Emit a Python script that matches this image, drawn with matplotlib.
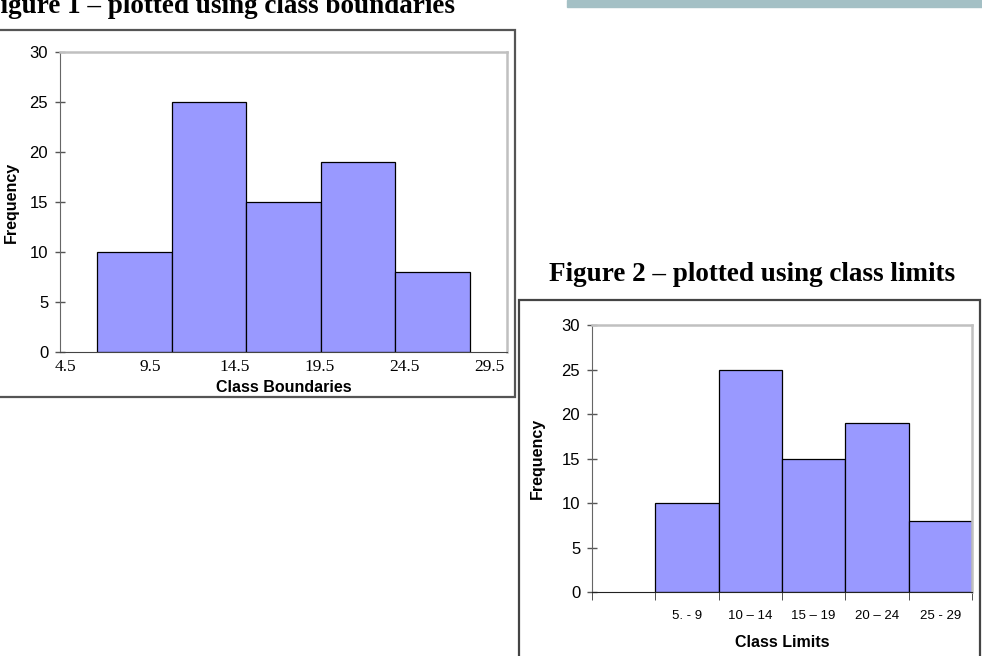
import numpy as np
import matplotlib
matplotlib.use('Agg')
import matplotlib.pyplot as plt
from matplotlib.patches import Rectangle

# Data
boundary_labels = ['4.5', '9.5', '14.5', '19.5', '24.5', '29.5']
limit_labels = ['5. - 9', '10 – 14', '15 – 19', '20 – 24', '25 - 29']
frequency = [10, 25, 15, 19, 8]
y_ticks = [0, 5, 10, 15, 20, 25, 30]

W, H = 982, 656
BAR = '#9999FF'
SANS = 'Liberation Sans'
SERIF = 'Liberation Serif'

fig = plt.figure(figsize=(W / 100, H / 100), dpi=100)


def px_box(x0, y0, x1, y1):
    # pixel box (top-left origin) -> figure fraction rect
    return [x0 / W, 1 - y1 / H, (x1 - x0) / W, (y1 - y0) / H]


def frame(x0, y0, x1, y1, color):
    fig.patches.append(Rectangle((x0 / W, 1 - y1 / H), (x1 - x0) / W, (y1 - y0) / H,
                                 transform=fig.transFigure, fill=False,
                                 edgecolor=color, linewidth=1.6, zorder=0))


def style_axes(ax, bottom_color):
    ax.set_ylim(0, 30)
    ax.set_yticks(y_ticks)
    ax.tick_params(axis='y', direction='inout', length=7, width=1, color='#555555',
                   labelsize=12, pad=5)
    for lab in ax.get_yticklabels():
        lab.set_fontfamily(SANS)
    ax.spines['top'].set_color('#C0C0C0')
    ax.spines['right'].set_color('#C0C0C0')
    ax.spines['top'].set_linewidth(1.8)
    ax.spines['right'].set_linewidth(1.8)
    ax.spines['left'].set_color('#666666')
    ax.spines['bottom'].set_color(bottom_color)
    ax.set_ylabel('Frequency', fontfamily=SANS, fontweight='bold', fontsize=11.5)


# top-right decoration strip
fig.patches.append(Rectangle((567 / W, 1 - 7 / H), (W - 567) / W, 7 / H,
                             transform=fig.transFigure, color='#A4C0C5', zorder=0))

# chart frames
frame(-2, 29.5, 515, 397, '#555555')
frame(519, 300, 980, H + 5, '#444444')

# titles
fig.text(455 / W, 1 - 13 / H, 'Figure 1 – plotted using class boundaries',
         ha='right', va='baseline', fontfamily=SERIF, fontweight='bold', fontsize=19.5)
fig.text(752 / W, 1 - 281 / H, 'Figure 2 – plotted using class limits',
         ha='center', va='baseline', fontfamily=SERIF, fontweight='bold', fontsize=19.5)

# Figure 1: class boundaries
ax1 = fig.add_axes(px_box(60, 52, 507, 352))
pos1 = np.arange(len(frequency))
ax1.bar(pos1, frequency, width=1.0, color=BAR, edgecolor='black', linewidth=0.9)
ax1.set_xlim(-1, len(frequency))
ax1.set_xticks(np.linspace(-0.93, 4.76, len(boundary_labels)))
ax1.set_xticklabels(boundary_labels, fontfamily=SERIF, fontsize=12.5)
ax1.tick_params(axis='x', length=0, pad=5)
style_axes(ax1, '#444444')
ax1.yaxis.labelpad = 8
ax1.set_xlabel('Class Boundaries', fontfamily=SANS, fontweight='bold', fontsize=11.5,
               labelpad=4)

# Figure 2: class limits (first category left empty)
ax2 = fig.add_axes(px_box(592, 325, 972, 592))
pos2 = np.arange(1, len(frequency) + 1)
ax2.bar(pos2, frequency, width=1.0, color=BAR, edgecolor='black', linewidth=0.9)
ax2.set_xlim(-0.5, len(frequency) + 0.5)
ax2.set_xticks(pos2)
ax2.set_xticklabels(limit_labels, fontfamily=SANS, fontsize=9.5)
ax2.set_xticks(np.arange(-0.5, len(frequency) + 1), minor=True)
ax2.tick_params(axis='x', which='major', length=0, pad=13)
ax2.tick_params(axis='x', which='minor', direction='out', length=6, color='#333333')
style_axes(ax2, '#222222')
ax2.yaxis.labelpad = 12
ax2.set_xlabel('Class Limits', fontfamily=SANS, fontweight='bold', fontsize=11.5,
               labelpad=9)

fig.savefig('out.png', dpi=100)
